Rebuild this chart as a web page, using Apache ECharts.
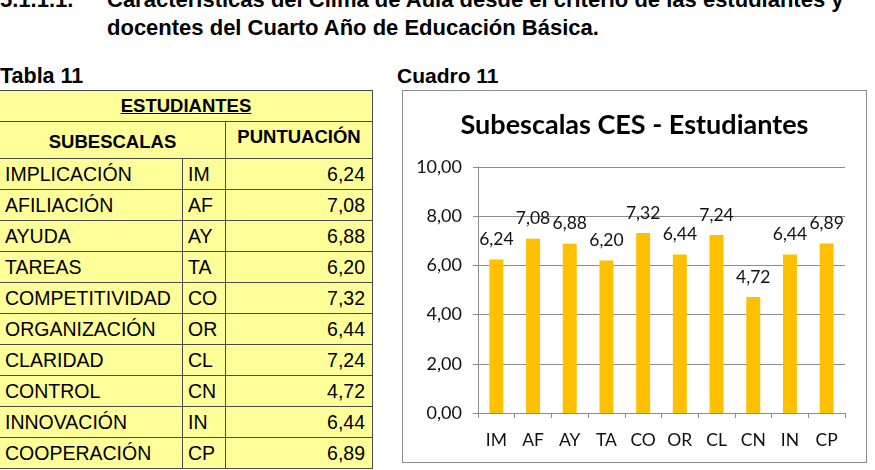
<!DOCTYPE html>
<html>
<head>
<meta charset="utf-8">
<script src="https://cdn.jsdelivr.net/npm/echarts@6/dist/echarts.min.js"></script>
<style>
  body { margin: 0; width: 875px; height: 470px; position: relative; overflow: hidden; background: #fff; font-family: 'Liberation Sans', Arial, sans-serif; color: #000; }
  .head { position: absolute; font-weight: bold; font-size: 22px; white-space: nowrap; }
  #tabla { position: absolute; left: -1px; top: 90px; border-collapse: collapse; background: #ffff99; }
  #tabla td { border: 1px solid #4a4a4a; height: 30px; padding: 0 5px; font-size: 19.5px; line-height: 20px; white-space: nowrap; }
  #tabla td.val { text-align: right; padding-right: 7px; }
  #tabla td.hd { font-weight: bold; text-align: center; font-size: 18.5px; }
  #box { position: absolute; left: 402px; top: 90px; width: 465px; height: 373px; box-sizing: border-box; border: 1px solid #8c8c8c; }
  #chart { width: 463px; height: 371px; }
</style>
</head>
<body>
<div class="head" style="left:0px; top:-13px;">5.1.1.1.</div>
<div class="head" style="left:107px; top:-13px;">Características del Clima de Aula desde el criterio de las estudiantes y</div>
<div class="head" style="left:107px; top:15px;">docentes del Cuarto Año de Educación Básica.</div>
<div class="head" style="left:0px; top:64px; font-size:21.5px;">Tabla 11</div>
<div class="head" style="left:397px; top:64px; font-size:21px;">Cuadro 11</div>

<table id="tabla"></table>

<div id="box"><div id="chart"></div></div>

<script>
// datos
const nombres = ['IMPLICACIÓN', 'AFILIACIÓN', 'AYUDA', 'TAREAS', 'COMPETITIVIDAD',
  'ORGANIZACIÓN', 'CLARIDAD', 'CONTROL', 'INNOVACIÓN', 'COOPERACIÓN'];
const codigos = ['IM', 'AF', 'AY', 'TA', 'CO', 'OR', 'CL', 'CN', 'IN', 'CP'];
const puntuacion = [6.24, 7.08, 6.88, 6.20, 7.32, 6.44, 7.24, 4.72, 6.44, 6.89];
const yTicks = [0, 2, 4, 6, 8, 10];

const coma = (v) => v.toFixed(2).replace('.', ',');

// tabla
const tabla = document.getElementById('tabla');
let html = '<colgroup><col style="width:183px"><col style="width:43px"><col style="width:147px"></colgroup>';
html += '<tr><td class="hd" colspan="3" style="text-decoration:underline;">ESTUDIANTES</td></tr>';
html += '<tr><td class="hd" colspan="2" style="padding-top:4px;">SUBESCALAS</td><td class="hd" style="padding-bottom:6px;">PUNTUACIÓN</td></tr>';
nombres.forEach((n, i) => {
  html += `<tr><td>${n}</td><td>${codigos[i]}</td><td class="val">${coma(puntuacion[i])}</td></tr>`;
});
tabla.innerHTML = html;

// grafico
const fuente = 'Lato';
const chart = echarts.init(document.getElementById('chart'));
chart.setOption({
  animation: false,
  title: {
    text: 'Subescalas CES - Estudiantes',
    left: 'center',
    top: 16,
    textStyle: {
      fontFamily: fuente,
      fontSize: 27,
      fontWeight: 'bold',
      color: '#000'
    }
  },
  grid: {
    left: 75,
    right: 21,
    top: 76,
    bottom: 49
  },
  xAxis: {
    type: 'category',
    data: codigos,
    axisLine: { lineStyle: { color: '#8c8c8c' } },
    axisTick: { show: true, length: 5, lineStyle: { color: '#8c8c8c' } },
    axisLabel: {
      margin: 18,
      fontFamily: fuente,
      fontSize: 17.5,
      color: '#111'
    }
  },
  yAxis: {
    type: 'value',
    min: yTicks[0],
    max: yTicks[yTicks.length - 1],
    interval: 2,
    axisLine: { show: true, lineStyle: { color: '#8c8c8c' } },
    axisTick: { show: true, length: 5, lineStyle: { color: '#8c8c8c' } },
    splitLine: { lineStyle: { color: '#8c8c8c' } },
    axisLabel: {
      margin: 16,
      fontFamily: fuente,
      fontSize: 18,
      color: '#111',
      formatter: (v) => coma(v)
    }
  },
  series: [
    {
      type: 'bar',
      data: puntuacion,
      barWidth: '38%',
      itemStyle: { color: '#ffc000' },
      label: {
        show: true,
        position: 'top',
        distance: 11,
        fontFamily: fuente,
        fontSize: 17.5,
        color: '#111',
        formatter: (p) => coma(p.value)
      }
    }
  ]
});
</script>
</body>
</html>
